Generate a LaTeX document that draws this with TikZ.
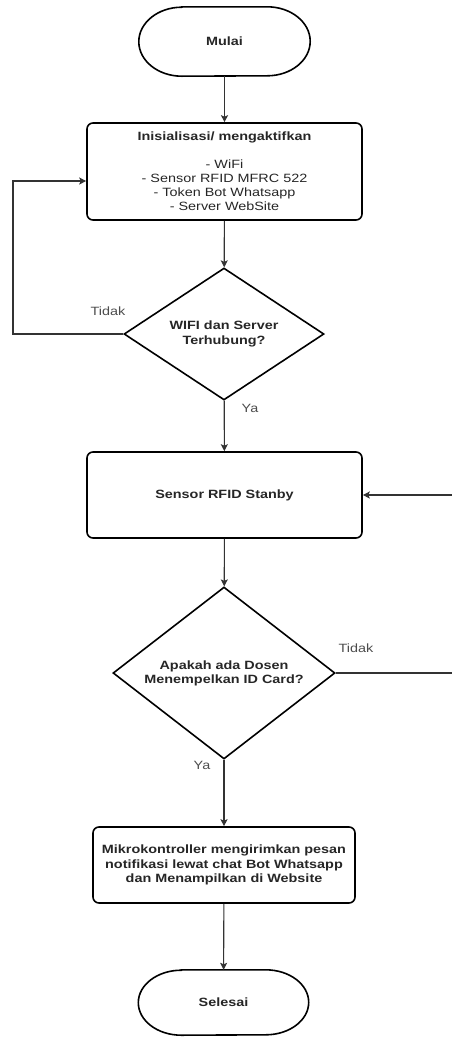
\documentclass[tikz,border=0pt]{standalone}
\usepackage{fontspec}
\setmainfont{Liberation Sans}[FakeStretch=1.2]
\usetikzlibrary{arrows.meta,shapes.geometric}

\tikzset{
  x=1pt, y=-1pt,
  txt/.style={font=\fontsize{12}{14.2}\selectfont, text=black!85, align=center, inner sep=0pt},
  boxnode/.style={txt, draw=black, line width=1.6pt, rounded corners=6pt, font=\fontsize{12}{14.2}\selectfont\bfseries},
  decision/.style={txt, diamond, draw=black, line width=1.6pt, font=\fontsize{12}{14.2}\selectfont\bfseries},
  termnode/.style={txt, font=\fontsize{12}{14.2}\selectfont\bfseries},
  border/.style={draw=black, line width=1.6pt},
  arr/.style={draw=black!80, line width=1.1pt, -{Stealth[length=7pt,width=7pt,inset=1.5pt]}},
  link/.style={draw=black!80, line width=1.1pt},
  lbl/.style={txt, text=black!70, font=\fontsize{12}{14.2}\selectfont},
}

\begin{document}
\begin{tikzpicture}
\useasboundingbox (0,0) rectangle (451,1039);

% start / end terminators (text nodes with elliptic-ended outlines)
\node[termnode, minimum width=171pt, minimum height=69pt] (start) at (224.5,41.5) {Mulai};
\draw[border] ([xshift=43pt]start.north west) -- ([xshift=-43pt]start.north east)
  arc[start angle=90, end angle=-90, x radius=43pt, y radius=34.5pt]
  -- ([xshift=43pt]start.south west)
  arc[start angle=270, end angle=90, x radius=43pt, y radius=34.5pt] -- cycle;

\node[boxnode, minimum width=275pt, minimum height=97pt] (init) at (224.5,171.5)
  {Inisialisasi/ mengaktifkan\\[13pt]
   \mdseries - WiFi\\ \mdseries - Sensor RFID MFRC 522\\ \mdseries - Token Bot Whatsapp\\ \mdseries - Server WebSite};

\node[decision, minimum width=200pt, minimum height=132pt, aspect=1.515] (d1) at (224,334)
  {WIFI dan Server\\Terhubung?};

\node[boxnode, minimum width=275pt, minimum height=86pt] (stanby) at (224.5,495) {Sensor RFID Stanby};

\node[decision, minimum width=222pt, minimum height=172pt, aspect=1.29] (d2) at (224,673)
  {Apakah ada Dosen\\Menempelkan ID Card?};

\node[boxnode, minimum width=262pt, minimum height=76pt] (mikro) at (224,865)
  {Mikrokontroller mengirimkan pesan\\notifikasi lewat chat Bot Whatsapp\\dan Menampilkan di Website};

\node[termnode, minimum width=170pt, minimum height=65pt] (finish) at (223.5,1002.5) {Selesai};
\draw[border] ([xshift=43pt]finish.north west) -- ([xshift=-43pt]finish.north east)
  arc[start angle=90, end angle=-90, x radius=43pt, y radius=32.5pt]
  -- ([xshift=43pt]finish.south west)
  arc[start angle=270, end angle=90, x radius=43pt, y radius=32.5pt] -- cycle;

% loop points
\coordinate (loopL) at (13,334);
\coordinate (loopT) at (13,181);
\coordinate (rightB) at (453,673);
\coordinate (rightT) at (453,495);

% connectors
\draw[arr] (start) -- (init);
\draw[arr] (init) -- (d1);
\draw[arr] (d1.west) -- (loopL) -- (loopT) -- (init.west |- loopT);
\draw[arr] (d1) -- (stanby);
\draw[arr] (stanby) -- (d2);
\draw[link] (d2.east) -- (rightB) -- (rightT);
\draw[arr] (rightT) -- (stanby.east);
\draw[arr] (d2) -- (mikro);
\draw[arr] (mikro) -- (finish);

% branch labels
\node[lbl] (tidak1) at (108,311) {Tidak};
\node[lbl] (ya1) at (250,408) {Ya};
\node[lbl] (tidak2) at (356,648) {Tidak};
\node[lbl] (ya2) at (202,765) {Ya};
\end{tikzpicture}
\end{document}
